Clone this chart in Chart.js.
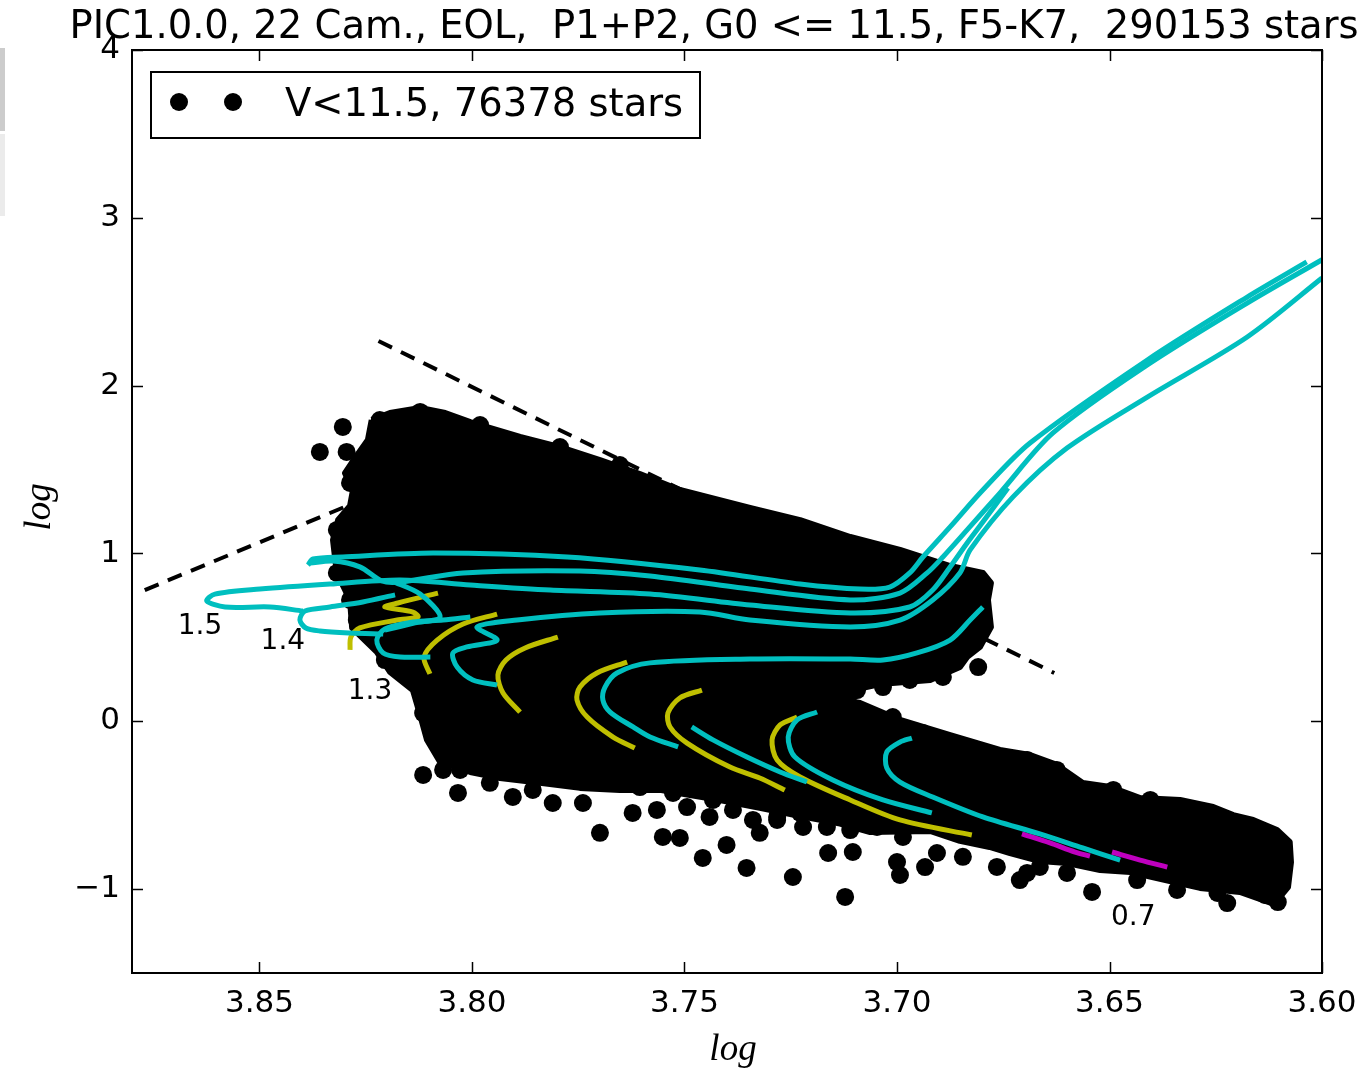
<!DOCTYPE html>
<html>
<head>
<meta charset="utf-8">
<script src="https://cdn.jsdelivr.net/npm/chart.js@4.4.0/dist/chart.umd.min.js"></script>
<style>
html, body { margin: 0; padding: 0; background: #fff; }
canvas { display: block; }
</style>
</head>
<body>
<canvas id="hr" width="1363" height="1075"></canvas>
<script>
// texts
const titleText = 'PIC1.0.0, 22 Cam., EOL,  P1+P2, G0 <= 11.5, F5-K7,  290153 stars';
const legendText = 'V<11.5, 76378 stars';
const xTitle = 'log';
const yTitle = 'log';

// axes
const xTicks = [3.85, 3.80, 3.75, 3.70, 3.65, 3.60];
const yTicks = [-1, 0, 1, 2, 3, 4];
const xRange = [3.60, 3.88];
const yRange = [-1.5, 4];

// star cloud outline (log Teff, log L), traced round the dense black area
const cloudOutline = [
  [3.8236,1.795],[3.8193,1.837],[3.8122,1.867],[3.8063,1.837],[3.8004,1.783],[3.7887,1.694],
  [3.7793,1.634],[3.7699,1.557],[3.7605,1.473],[3.7511,1.378],[3.7346,1.271],[3.7228,1.199],
  [3.7110,1.098],[3.6993,1.021],[3.6875,0.925],[3.6798,0.884],[3.6779,0.824],[3.6786,0.723],
  [3.6779,0.562],[3.6805,0.443],[3.6835,0.383],[3.6852,0.323],[3.6922,0.246],[3.7040,0.222],
  [3.7134,0.169],[3.7162,0.145],[3.7087,0.109],[3.6993,0.008],[3.6875,-0.082],[3.6758,-0.171],
  [3.6687,-0.201],[3.6624,-0.260],[3.6563,-0.368],[3.6498,-0.392],[3.6428,-0.457],[3.6334,-0.469],
  [3.6256,-0.511],[3.6209,-0.559],[3.6162,-0.588],[3.6106,-0.648],[3.6076,-0.719],[3.6073,-0.839],
  [3.6080,-0.988],[3.6113,-1.089],[3.6193,-1.017],[3.6287,-0.993],[3.6358,-0.952],[3.6451,-0.898],
  [3.6522,-0.887],[3.6600,-0.845],[3.6664,-0.833],[3.6734,-0.785],[3.6782,-0.749],[3.6852,-0.713],
  [3.6922,-0.654],[3.7063,-0.660],[3.7134,-0.610],[3.7228,-0.565],[3.7323,-0.516],[3.7417,-0.469],
  [3.7487,-0.440],[3.7558,-0.409],[3.7652,-0.409],[3.7746,-0.397],[3.7840,-0.367],[3.7934,-0.338],
  [3.8004,-0.302],[3.8075,-0.242],[3.8106,-0.110],[3.8122,0.037],[3.8139,0.186],[3.8193,0.294],
  [3.8224,0.413],[3.8282,0.556],[3.8287,0.723],[3.8318,0.884],[3.8327,1.080],[3.8315,1.199],
  [3.8287,1.283],[3.8280,1.378],[3.8299,1.479],[3.8275,1.569],[3.8245,1.676],[3.8236,1.795]
];

// stars sitting on the rim of the cloud (give it its bumpy edge)
const rimStars = [
  [3.8129,0.234],[3.8115,0.049],[3.8087,-0.112],[3.8059,-0.129],[3.8021,-0.112],[3.7988,-0.153],
  [3.7958,-0.189],[3.7910,-0.213],[3.7871,-0.189],[3.7824,-0.290],[3.7776,-0.272],[3.7715,-0.332],
  [3.7668,-0.367],[3.7605,-0.392],[3.7527,-0.427],[3.7494,-0.511],[3.7433,-0.469],[3.7386,-0.528],
  [3.7339,-0.588],[3.7282,-0.588],[3.7228,-0.546],[3.7165,-0.630],[3.7110,-0.648],[3.7047,-0.630],
  [3.6986,-0.689],[3.6906,-0.785],[3.6845,-0.808],[3.6765,-0.868],[3.6664,-0.868],[3.6600,-0.904],
  [3.6435,-0.946],[3.6341,-1.005],[3.6246,-1.023],[3.6223,-1.083],
  [3.7110,0.169],[3.7010,0.025],[3.6939,-0.070],[3.6835,-0.171],[3.6694,-0.231],[3.6624,-0.290],
  [3.6491,-0.409],[3.6404,-0.469],[3.6304,-0.570],[3.6217,-0.648],[3.6200,-0.707],
  [3.6092,-0.767],[3.6099,-0.946],[3.6134,-1.035],[3.6104,-1.077],
  [3.6892,0.264],[3.6970,0.246],[3.7033,0.204],[3.7094,0.186],[3.7141,0.169],
  [3.8287,1.420],[3.8318,1.140],[3.8304,1.003],[3.8318,0.884],[3.8287,0.723],[3.8271,0.603],
  [3.8247,0.526],[3.8205,0.365],
  [3.8217,1.795],[3.8122,1.843],[3.7981,1.765],[3.7793,1.634],[3.7652,1.527]
];

// single stars outside the dense area
const outlierStars = [
  [3.8358,1.605],[3.8304,1.754],[3.8295,1.605],[3.6809,0.323],
  [3.8115,-0.320],[3.8068,-0.290],[3.8028,-0.290],[3.8033,-0.427],[3.7958,-0.367],[3.7904,-0.451],
  [3.7857,-0.409],[3.7810,-0.487],[3.7739,-0.487],[3.7699,-0.665],[3.7692,-0.367],[3.7622,-0.546],
  [3.7565,-0.528],[3.7551,-0.689],[3.7511,-0.695],[3.7457,-0.814],[3.7441,-0.570],[3.7401,-0.737],
  [3.7354,-0.874],[3.7323,-0.665],[3.7282,-0.570],[3.7245,-0.928],[3.7221,-0.630],[3.7122,-1.047],
  [3.7162,-0.785],[3.7104,-0.779],[3.7000,-0.839],[3.6993,-0.916],[3.6934,-0.869],[3.6711,-0.946],
  [3.6694,-0.904],[3.6541,-1.017]
];

// dashed guide lines
const dashUpper = [[3.822,2.266],[3.663,0.288]];
const dashLower = [[3.877,0.782],[3.826,1.319]];

// cyan tracks
const cyanA = [[3.8386,0.931],[3.8374,0.967],[3.8304,0.979],[3.8091,1.003],[3.7776,0.979],[3.7464,0.902],
  [3.7228,0.818],[3.7087,0.788],[3.7017,0.800],[3.6970,0.884],[3.6939,0.979],[3.6875,1.158],
  [3.6798,1.378],[3.6687,1.658],[3.6411,2.153],[3.6176,2.528],[3.6036,2.737]];
const cyanB = [[3.8381,0.943],[3.8327,0.955],[3.8264,0.920],[3.8212,0.836],[3.8169,0.830],[3.8021,0.884],
  [3.7746,0.896],[3.7581,0.866],[3.7346,0.788],[3.7110,0.723],[3.6993,0.764],[3.6929,0.884],
  [3.6892,0.979],[3.6835,1.140],[3.6758,1.360],[3.6633,1.718],[3.6411,2.123],[3.6176,2.492],[3.6000,2.750]];
const cyanC = [[3.8398,0.657],[3.8475,0.681],[3.8581,0.681],[3.8624,0.717],[3.8605,0.758],[3.8499,0.788],
  [3.8334,0.818],[3.8169,0.842],[3.8004,0.812],[3.7816,0.782],[3.7581,0.758],[3.7346,0.693],
  [3.7110,0.645],[3.6970,0.681],[3.6916,0.782],[3.6875,0.919],[3.6835,1.062],[3.6798,1.187],[3.6739,1.390]];
const cyanD = [[3.7941,0.216],[3.7998,0.246],[3.8035,0.323],[3.8045,0.407],[3.8012,0.443],[3.7941,0.484],
  [3.7988,0.562],[3.7894,0.603],[3.7699,0.645],[3.7464,0.651],[3.7346,0.603],[3.7110,0.562],
  [3.6993,0.603],[3.6916,0.723],[3.6852,0.884],[3.6828,1.021],[3.6727,1.337],[3.6600,1.628],
  [3.6411,1.932],[3.6176,2.290],[3.6000,2.641]];
const cyanHook13 = [[3.8098,0.383],[3.8169,0.383],[3.8209,0.407],[3.8224,0.484],[3.8205,0.550],
  [3.8139,0.592],[3.8068,0.603],[3.8004,0.621]];
const cyanLoop14 = [[3.8181,0.753],[3.8257,0.711],[3.8334,0.681],[3.8393,0.657],[3.8405,0.604],
  [3.8391,0.556],[3.8358,0.538],[3.8287,0.526],[3.8209,0.520]];
const cyanZig = [[3.8189,0.836],[3.8122,0.758],[3.8075,0.621],[3.8134,0.586],[3.8205,0.544]];
const cyanE = [[3.7515,-0.153],[3.7581,-0.094],[3.7621,-0.034],[3.7675,0.055],[3.7692,0.127],[3.7687,0.204],
  [3.7659,0.288],[3.7581,0.348],[3.7346,0.371],[3.7110,0.371],[3.7033,0.365],[3.6953,0.407],
  [3.6875,0.484],[3.6828,0.603],[3.6798,0.681]];
const cyanF = [[3.7483,-0.034],[3.7433,-0.111],[3.7353,-0.213],[3.7275,-0.302],[3.7212,-0.362]];
const cyanG = [[3.7188,0.055],[3.7235,0.008],[3.7256,-0.094],[3.7240,-0.213],[3.7151,-0.350],
  [3.7033,-0.469],[3.6918,-0.546]];
const cyanH = [[3.6965,-0.100],[3.6993,-0.124],[3.7024,-0.183],[3.7024,-0.278],[3.6993,-0.362],
  [3.6916,-0.451],[3.6798,-0.570],[3.6664,-0.671],[3.6563,-0.755],[3.6475,-0.827]];

// yellow tracks
const yellowA = [[3.8287,0.425],[3.8285,0.502],[3.8264,0.556],[3.8176,0.603],[3.8127,0.621],
  [3.8139,0.651],[3.8205,0.681],[3.8174,0.705],[3.8080,0.764]];
const yellowB = [[3.8099,0.282],[3.8113,0.383],[3.8082,0.484],[3.8021,0.580],[3.7941,0.639]];
const yellowC = [[3.7887,0.055],[3.7927,0.169],[3.7939,0.276],[3.7920,0.365],[3.7875,0.437],[3.7798,0.502]];
const yellowD = [[3.7617,-0.159],[3.7668,-0.094],[3.7729,0.025],[3.7753,0.127],[3.7746,0.204],
  [3.7706,0.288],[3.7635,0.353]];
const yellowE = [[3.7459,0.186],[3.7511,0.139],[3.7539,0.049],[3.7534,-0.034],[3.7494,-0.130],
  [3.7393,-0.273],[3.7323,-0.338],[3.7264,-0.410]];
const yellowF = [[3.7235,0.025],[3.7275,-0.022],[3.7294,-0.111],[3.7282,-0.231],[3.7228,-0.332],
  [3.7110,-0.469],[3.6993,-0.588],[3.6824,-0.678]];

// magenta tracks
const magentaA = [[3.6706,-0.671],[3.6640,-0.725],[3.6581,-0.779],[3.6546,-0.803]];
const magentaB = [[3.6494,-0.779],[3.6428,-0.827],[3.6364,-0.869]];

// mass labels
const massLabels = ['1.5', '1.4', '1.3', '0.7'];
const massLabelX = [3.8640, 3.8445, 3.8240, 3.6444];
const massLabelY = [0.562, 0.473, 0.175, -1.172];

const CYAN = '#00bfbf', YELLOW = '#bfbf00', MAGENTA = '#bf00bf';
const pts = arr => arr.map(([x, y]) => ({x, y}));

function track(data, color, order) {
  return {
    data: pts(data), showLine: true, borderColor: color, borderWidth: 5,
    pointRadius: 0, tension: 0.3, order: order, borderCapStyle: 'butt', borderJoinStyle: 'round'
  };
}

function stars(data, order) {
  return { data: pts(data), backgroundColor: '#000', borderColor: '#000', borderWidth: 0,
    pointRadius: 9, order: order };
}

const datasets = [
  { data: pts(dashUpper), showLine: true, borderColor: '#000', borderWidth: 4, borderDash: [15, 10],
    pointRadius: 0, order: 9 },
  { data: pts(dashLower), showLine: true, borderColor: '#000', borderWidth: 4, borderDash: [15, 10],
    pointRadius: 0, order: 9 },
  { data: pts(cloudOutline), showLine: true, fill: 'shape', backgroundColor: '#000', borderColor: '#000',
    borderWidth: 6, borderJoinStyle: 'round', pointRadius: 0, tension: 0, order: 8 },
  stars(rimStars, 7),
  stars(outlierStars, 7),
  track(magentaA, MAGENTA, 4), track(magentaB, MAGENTA, 4),
  track(yellowA, YELLOW, 3), track(yellowB, YELLOW, 3), track(yellowC, YELLOW, 3),
  track(yellowD, YELLOW, 3), track(yellowE, YELLOW, 3), track(yellowF, YELLOW, 3),
  track(cyanA, CYAN, 1), track(cyanB, CYAN, 1), track(cyanC, CYAN, 1), track(cyanD, CYAN, 1),
  track(cyanHook13, CYAN, 1), track(cyanLoop14, CYAN, 1), track(cyanZig, CYAN, 1),
  track(cyanE, CYAN, 1), track(cyanF, CYAN, 1), track(cyanG, CYAN, 1), track(cyanH, CYAN, 1)
];

const decor = {
  id: 'decor',
  beforeDraw(chart) {
    const ctx = chart.ctx;
    ctx.save();
    ctx.fillStyle = '#fff';
    ctx.fillRect(0, 0, chart.width, chart.height);
    ctx.fillStyle = '#cccccc';
    ctx.fillRect(0, 48, 5, 83);
    ctx.fillStyle = '#ebebeb';
    ctx.fillRect(0, 134, 5, 82);
    ctx.restore();
  },
  afterDraw(chart) {
    const {ctx, chartArea: a, scales: {x, y}} = chart;
    ctx.save();
    ctx.strokeStyle = '#000';
    ctx.lineWidth = 1.5;
    ctx.beginPath();
    xTicks.forEach(v => {
      const px = Math.round(x.getPixelForValue(v)) + 0.5;
      ctx.moveTo(px, a.bottom); ctx.lineTo(px, a.bottom - 11);
      ctx.moveTo(px, a.top); ctx.lineTo(px, a.top + 11);
    });
    yTicks.forEach(v => {
      const py = Math.round(y.getPixelForValue(v)) + 0.5;
      ctx.moveTo(a.left, py); ctx.lineTo(a.left + 11, py);
      ctx.moveTo(a.right, py); ctx.lineTo(a.right - 11, py);
    });
    ctx.stroke();
    ctx.lineWidth = 2;
    ctx.strokeRect(a.left, a.top, a.right - a.left, a.bottom - a.top);

    // mass labels
    ctx.fillStyle = '#000';
    ctx.font = '28px "DejaVu Sans"';
    ctx.textAlign = 'center';
    ctx.textBaseline = 'middle';
    massLabels.forEach((t, i) => {
      ctx.fillText(t, x.getPixelForValue(massLabelX[i]), y.getPixelForValue(massLabelY[i]));
    });

    // legend
    ctx.fillStyle = '#fff';
    ctx.fillRect(151, 72, 549, 66);
    ctx.lineWidth = 2;
    ctx.strokeRect(151, 72, 549, 66);
    ctx.fillStyle = '#000';
    [179, 233].forEach(cx => { ctx.beginPath(); ctx.arc(cx, 102, 9, 0, Math.PI * 2); ctx.fill(); });
    ctx.font = '38.5px "DejaVu Sans"';
    ctx.textAlign = 'left';
    ctx.textBaseline = 'alphabetic';
    ctx.fillText(legendText, 285, 116);

    // title
    ctx.textAlign = 'center';
    ctx.font = '38.5px "DejaVu Sans"';
    ctx.fillText(titleText, 714, 38);

    // axis titles
    ctx.font = 'italic 37px "Liberation Serif"';
    ctx.textBaseline = 'middle';
    ctx.fillText(xTitle, 733, 1050);
    ctx.translate(40, 507);
    ctx.rotate(-Math.PI / 2);
    ctx.fillText(yTitle, 0, 0);
    ctx.restore();
  }
};

new Chart(document.getElementById('hr'), {
  type: 'scatter',
  data: { datasets },
  options: {
    responsive: false,
    animation: false,
    devicePixelRatio: 1,
    layout: { padding: { left: 0, right: 41, top: 50, bottom: 0 } },
    plugins: { legend: { display: false }, tooltip: { enabled: false }, title: { display: false } },
    scales: {
      x: {
        type: 'linear', reverse: true, min: xRange[0], max: xRange[1],
        afterBuildTicks: s => { s.ticks = xTicks.map(v => ({value: v})); },
        afterFit: s => { s.height = 102; s.paddingLeft = 0; s.paddingRight = 0; },
        grid: { display: false, drawTicks: false },
        border: { display: false },
        ticks: { autoSkip: false, maxRotation: 0, padding: 12, color: '#000',
          font: { family: 'DejaVu Sans', size: 31 }, callback: v => v.toFixed(2) }
      },
      y: {
        type: 'linear', min: yRange[0], max: yRange[1],
        afterBuildTicks: s => { s.ticks = yTicks.map(v => ({value: v})); },
        afterFit: s => { s.width = 132; s.paddingTop = 0; s.paddingBottom = 0; },
        grid: { display: false, drawTicks: false },
        border: { display: false },
        ticks: { autoSkip: false, padding: 12, color: '#000',
          font: { family: 'DejaVu Sans', size: 31 },
          callback: v => v < 0 ? '\u2212' + Math.abs(v) : String(v) }
      }
    }
  },
  plugins: [decor]
});
</script>
</body>
</html>
